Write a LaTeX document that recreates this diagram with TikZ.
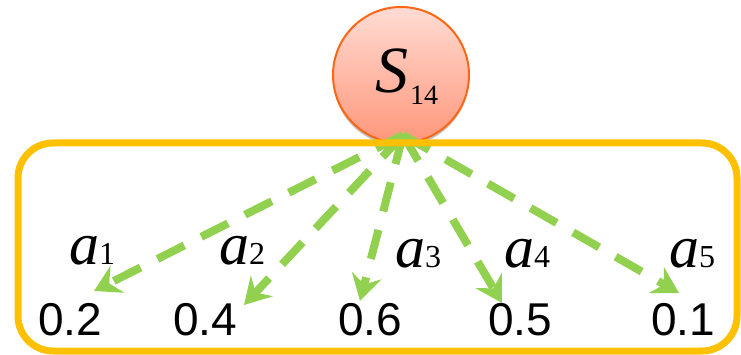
\documentclass[tikz,border=0pt]{standalone}
\usepackage{fontspec}
\setmainfont{Liberation Serif}
\newfontfamily\numfont{Liberation Sans}
\usetikzlibrary{arrows.meta,shadows}
\definecolor{framegold}{RGB}{255,192,0}
\definecolor{arrowgreen}{RGB}{146,208,80}
\definecolor{circleedge}{RGB}{255,102,20}
\definecolor{circletop}{RGB}{255,220,212}
\definecolor{circlebot}{RGB}{255,150,122}
\tikzset{
  numlabel/.style={anchor=base,inner sep=0pt,font=\numfont\fontsize{46}{46}\selectfont},
  alabel/.style={anchor=base west,inner sep=0pt,font=\fontsize{60}{60}\selectfont\itshape},
  dasharrow/.style={draw=arrowgreen,line width=8pt,dash pattern=on 30pt off 19pt,
    -{Stealth[length=26pt,width=30pt,inset=9pt]}},
}
\newcommand{\subdig}[1]{{\upshape\fontsize{32}{32}\selectfont #1}}
\begin{document}
\begin{tikzpicture}[x=1pt,y=-1pt]
\useasboundingbox (0,0) rectangle (741,355);
% state circle
\node[circle,minimum size=136pt,inner sep=0pt,draw=circleedge,line width=2pt,
  top color=circletop,bottom color=circlebot,
  drop shadow={shadow xshift=0pt,shadow yshift=-3pt,opacity=0.25,fill=black}] (s) at (401,75) {};
\node[anchor=base west,inner sep=0pt,font=\fontsize{66}{66}\selectfont\itshape] (slab) at (375,93)
  {S\hspace{2pt}\raisebox{-12pt}{\upshape\fontsize{28}{28}\selectfont 14}};
% convergence point and arrow tips
\coordinate (c) at (403,135);
\coordinate (t1) at (94,291);
\coordinate (t2) at (244,305);
\coordinate (t3) at (360,301);
\coordinate (t4) at (502,303);
\coordinate (t5) at (679,293);
\draw[dasharrow] (c) -- (t1);
\draw[dasharrow] (c) -- (t2);
\draw[dasharrow] (c) -- (t3);
\draw[dasharrow] (c) -- (t4);
\draw[dasharrow] (c) -- (t5);
% frame
\draw[framegold,line width=7pt,rounded corners=35pt] (18,143) rectangle (737,351);
% action labels
\node[alabel] (a1) at (69,265) {a\subdig{1}};
\node[alabel] (a2) at (219,265) {a\subdig{2}};
\node[alabel] (a3) at (395,267) {a\subdig{3}};
\node[alabel] (a4) at (504,267) {a\subdig{4}};
\node[alabel] (a5) at (669,267) {a\subdig{5}};
% values
\node[numlabel] (n1) at (70,335) {0.2};
\node[numlabel] (n2) at (205,335) {0.4};
\node[numlabel] (n3) at (370,335) {0.6};
\node[numlabel] (n4) at (520,335) {0.5};
\node[numlabel] (n5) at (683,335) {0.1};
\end{tikzpicture}
\end{document}
